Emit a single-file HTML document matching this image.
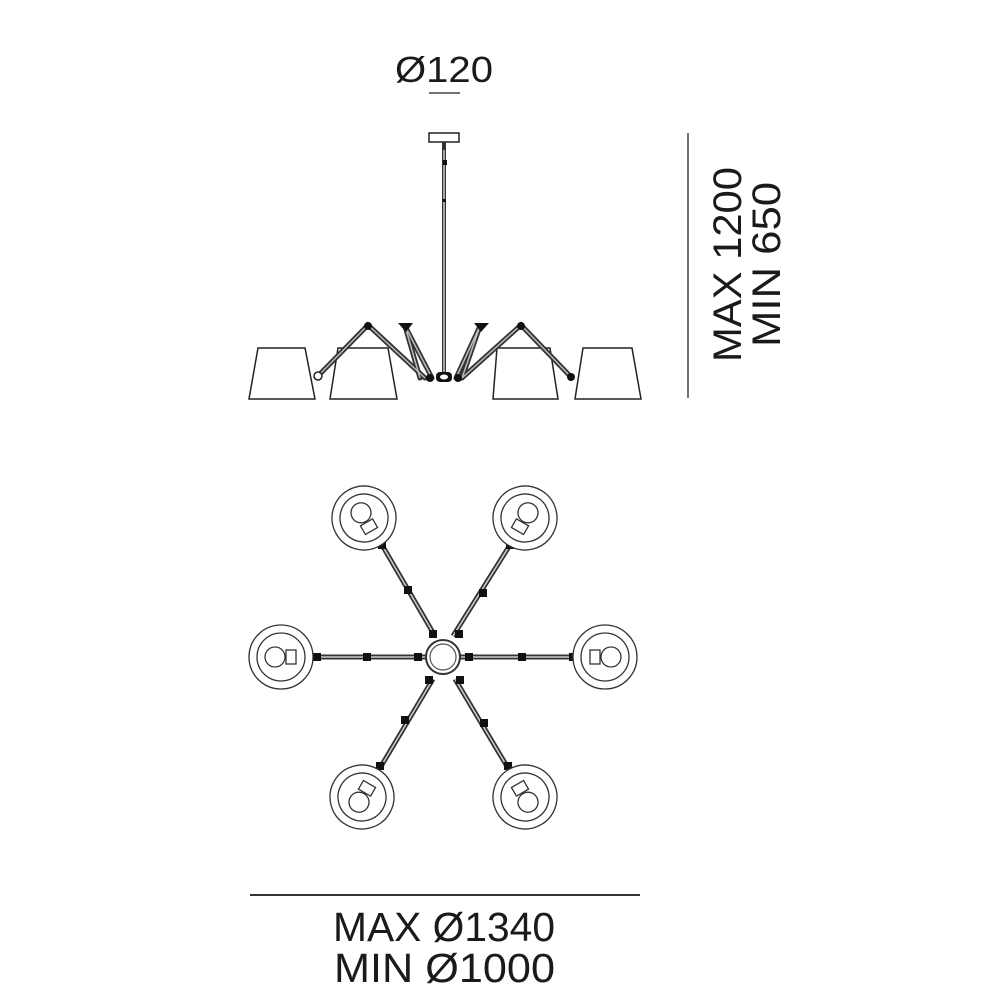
<!DOCTYPE html>
<html><head><meta charset="utf-8"><style>
html,body{margin:0;padding:0;background:#fff;}
svg{display:block;}
text{font-family:"Liberation Sans",sans-serif;fill:#1a1a1a;}
</style></head><body>
<svg width="1000" height="1000" viewBox="0 0 1000 1000" xmlns="http://www.w3.org/2000/svg">
<defs>
<g id="arm"><line x1="0" y1="0" x2="1" y2="0"/></g>
</defs>
<!-- top dimension -->
<text x="444" y="82" font-size="36" text-anchor="middle" textLength="98" lengthAdjust="spacingAndGlyphs">Ø120</text>
<line x1="429" y1="93" x2="460" y2="93" stroke="#444" stroke-width="1.5"/>

<!-- side view -->
<g fill="none" stroke="#222" stroke-width="1.5">
<rect x="429" y="133" width="30" height="9"/>
<line x1="444" y1="142" x2="444" y2="375" stroke="#333" stroke-width="4"/>
<line x1="444" y1="150" x2="444" y2="372" stroke="#ccc" stroke-width="1.5"/>
<!-- shades -->
<path d="M258 348 L305 348 L315 399 L249 399 Z" fill="#fff"/>
<path d="M338 348 L388 348 L397 399 L330 399 Z"/>
<path d="M497 348 L550 348 L558 399 L493 399 Z"/>
<path d="M583 348 L632 348 L641 399 L575 399 Z" fill="#fff"/>
</g>
<g stroke="#333" stroke-width="5" fill="none" stroke-linecap="round">
<polyline points="318,376 368,325 425,378"/>
<polyline points="432,378 405,326 420,378"/>
<polyline points="456,378 480,326 462,378"/>
<polyline points="571,377 521,325 462,378"/>
</g>
<g stroke="#bbb" stroke-width="1.5" fill="none">
<polyline points="318,376 368,325 425,378"/>
<polyline points="432,378 405,326 420,378"/>
<polyline points="456,378 480,326 462,378"/>
<polyline points="571,377 521,325 462,378"/>
</g>
<g fill="#111">
<circle cx="368" cy="326" r="4"/><path d="M398 323 L413 323 L406 332 Z"/>
<path d="M474 323 L489 323 L481 332 Z"/><circle cx="521" cy="326" r="4"/>
<circle cx="571" cy="377" r="4"/><circle cx="430" cy="378" r="4"/><circle cx="458" cy="378" r="4"/>
<rect x="436" y="372" width="16" height="10" rx="4"/>
<rect x="443" y="160" width="4" height="5"/><rect x="443" y="199" width="3" height="3"/>
</g>
<circle cx="318" cy="376" r="4" fill="#fff" stroke="#222" stroke-width="1.5"/>
<ellipse cx="444" cy="377" rx="4" ry="2.5" fill="#fff"/>

<!-- height dimension -->
<line x1="688" y1="133" x2="688" y2="398" stroke="#444" stroke-width="1.5"/>
<text transform="translate(741,362) rotate(-90)" font-size="40" textLength="195" lengthAdjust="spacingAndGlyphs">MAX 1200</text>
<text transform="translate(780,347) rotate(-90)" font-size="40" textLength="165" lengthAdjust="spacingAndGlyphs">MIN 650</text>

<!-- top view arms -->
<g stroke="#333" stroke-width="5" fill="none">
<line x1="313" y1="657" x2="427" y2="657"/><line x1="460" y1="657" x2="573" y2="657"/>
<line x1="382" y1="545" x2="435" y2="636"/><line x1="510" y1="545" x2="453" y2="636"/>
<line x1="380" y1="768" x2="433" y2="679"/><line x1="508" y1="768" x2="455" y2="679"/>
</g>
<g stroke="#ccc" stroke-width="1.5" fill="none">
<line x1="313" y1="657" x2="427" y2="657"/><line x1="460" y1="657" x2="573" y2="657"/>
<line x1="382" y1="545" x2="435" y2="636"/><line x1="510" y1="545" x2="453" y2="636"/>
<line x1="380" y1="768" x2="433" y2="679"/><line x1="508" y1="768" x2="455" y2="679"/>
</g>
<g fill="#111">
<rect x="313" y="653" width="8" height="8"/><rect x="363" y="653" width="8" height="8"/><rect x="414" y="653" width="8" height="8"/>
<rect x="465" y="653" width="8" height="8"/><rect x="518" y="653" width="8" height="8"/><rect x="569" y="653" width="8" height="8"/>
<rect x="378" y="541" width="8" height="8"/><rect x="404" y="586" width="8" height="8"/><rect x="429" y="630" width="8" height="8"/>
<rect x="506" y="541" width="8" height="8"/><rect x="479" y="589" width="8" height="8"/><rect x="455" y="630" width="8" height="8"/>
<rect x="376" y="762" width="8" height="8"/><rect x="401" y="716" width="8" height="8"/><rect x="425" y="676" width="8" height="8"/>
<rect x="504" y="762" width="8" height="8"/><rect x="480" y="719" width="8" height="8"/><rect x="456" y="676" width="8" height="8"/>
</g>
<!-- hub -->
<circle cx="443" cy="657" r="17" fill="#fff" stroke="#333" stroke-width="2"/>
<circle cx="443" cy="657" r="13" fill="#fff" stroke="#555" stroke-width="1.2"/>

<!-- lamp heads top view -->
<g fill="#fff" stroke="#333" stroke-width="1.3">
<g transform="translate(281,657)"><circle r="32"/><circle r="24"/><circle cx="-6" r="10"/><rect x="5" y="-7" width="10" height="14"/></g>
<g transform="translate(605,657) scale(-1,1)"><circle r="32"/><circle r="24"/><circle cx="-6" r="10"/><rect x="5" y="-7" width="10" height="14"/></g>
<g transform="translate(364,518) rotate(60)"><circle r="32"/><circle r="24"/><circle cx="-6" r="10"/><rect x="5" y="-7" width="10" height="14"/></g>
<g transform="translate(525,518) rotate(120)"><circle r="32"/><circle r="24"/><circle cx="-6" r="10"/><rect x="5" y="-7" width="10" height="14"/></g>
<g transform="translate(362,797) rotate(-60)"><circle r="32"/><circle r="24"/><circle cx="-6" r="10"/><rect x="5" y="-7" width="10" height="14"/></g>
<g transform="translate(525,797) rotate(-120)"><circle r="32"/><circle r="24"/><circle cx="-6" r="10"/><rect x="5" y="-7" width="10" height="14"/></g>
</g>

<!-- bottom dimension -->
<line x1="250" y1="895" x2="640" y2="895" stroke="#333" stroke-width="2"/>
<text x="333" y="941" font-size="41" textLength="222" lengthAdjust="spacingAndGlyphs">MAX Ø1340</text>
<text x="334" y="982" font-size="41" textLength="221" lengthAdjust="spacingAndGlyphs">MIN Ø1000</text>
</svg>
</body></html>
